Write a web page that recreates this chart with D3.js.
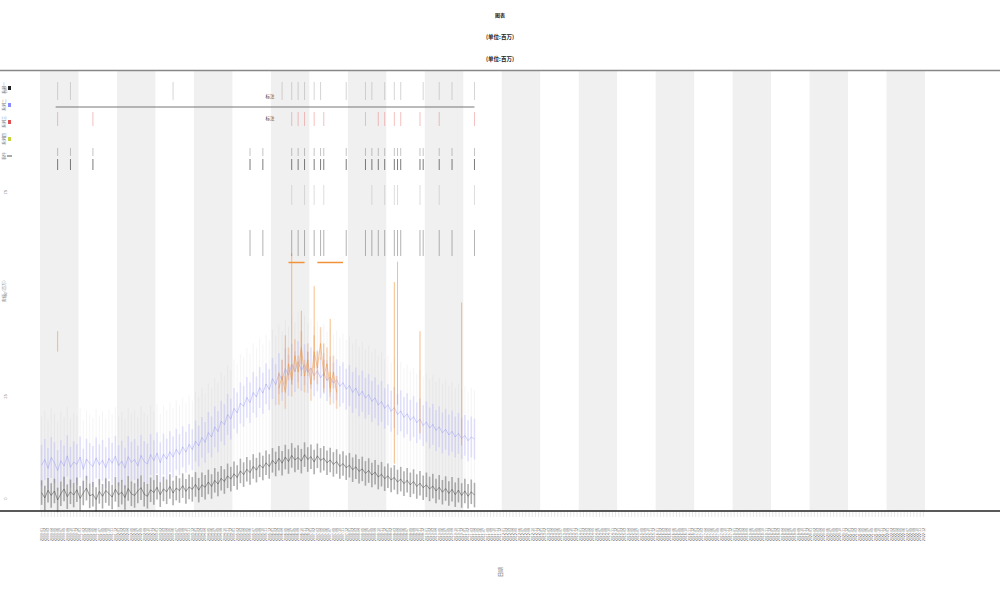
<!DOCTYPE html>
<html><head><meta charset="utf-8">
<script src="https://cdn.jsdelivr.net/npm/d3@7"></script>
<style>body{margin:0;background:#fff}svg{display:block}text{font-family:"Noto Sans CJK SC","DejaVu Sans",sans-serif}</style>
</head><body><div id="chart"></div>
<script>
// ---- data ----
const years = d3.range(2000, 2023);
const months = ["01","02","03","04","05","06","07","08","09","10","11","12"];
const categories = years.flatMap(y => months.map(m => y + "-" + m));
const yTicks = [0, 25, 50, 75, 100];
const grayValues = [
1.5,0.2,2.1,0.8,1.9,-0.3,1.2,2.4,0.5,1.7,
0.9,2.2,0.1,1.4,2.6,0.7,1.1,-0.2,1.8,0.6,
2.0,1.3,0.4,2.3,1.0,1.6,0.3,2.5,1.2,0.8,
1.9,2.7,1.1,0.6,2.2,1.5,2.8,1.0,2.4,1.7,
3.0,1.4,2.6,2.0,3.2,1.8,2.9,2.3,3.5,2.1,
3.4,2.8,4.1,3.0,4.5,3.6,5.0,4.2,5.6,4.8,
6.1,5.2,6.8,5.9,7.2,6.4,7.9,7.0,8.3,7.5,
8.8,7.9,9.4,8.5,9.9,8.7,10.2,9.1,10.6,9.5,
10.1,9.2,10.8,9.6,10.3,9.0,10.5,9.4,9.9,8.8,
9.5,8.4,9.1,7.9,8.6,7.6,8.2,7.1,7.8,6.7,
7.3,6.2,6.9,5.8,6.5,5.3,6.0,4.9,5.6,4.6,
5.2,4.1,4.8,3.7,4.5,3.4,4.2,3.0,3.8,2.7,
3.4,2.4,3.1,1.9,2.8,1.6,2.5,1.3,2.3,1.0,
2.1,0.8,1.9,0.6,1.7,0.9];
const blueValues = [
8.2,9.6,7.4,10.1,8.8,6.9,9.3,8.0,10.5,7.7,
9.0,8.4,10.2,7.2,9.7,8.6,7.9,10.0,8.3,9.4,
7.6,9.9,8.7,10.4,8.1,9.2,7.5,10.3,8.9,9.6,
8.0,10.6,9.1,8.5,10.8,9.3,11.2,8.8,10.9,9.7,
11.5,10.2,12.1,10.8,12.7,11.4,13.3,12.0,14.1,12.9,
15.0,13.8,16.2,15.1,17.6,16.4,19.0,18.1,20.6,19.5,
22.1,21.0,23.4,22.6,24.8,23.5,26.0,24.9,27.2,25.8,
28.1,26.7,29.4,27.9,30.6,29.0,31.8,30.2,32.9,31.1,
33.5,31.4,32.8,30.9,32.0,30.1,31.3,29.6,30.7,28.9,
29.8,28.3,29.1,27.5,28.4,26.8,27.7,26.0,27.1,25.2,
26.3,24.6,25.5,23.8,24.7,22.9,23.8,22.1,23.0,21.4,
22.3,20.6,21.5,19.9,20.8,19.2,20.1,18.6,19.5,17.9,
18.8,17.3,18.2,16.7,17.6,16.1,17.0,15.6,16.5,15.1,
16.0,14.7,15.5,14.2,15.1,14.6];
// orange overlay series (starts at category index 74)
const orangeStart = 74;
const orangeValues = [27, 30, 26, 33, 29, 35, 31, 37, 30, 34, 28, 36, 32, 38, 30, 33, 27, 31, 26];
// orange spikes: index, low, high
const orangeIdx  = [5, 76, 78, 81, 83, 85, 88, 90, 110, 111, 118, 131];
const orangeLow  = [36, 28, 28, 30, 31, 29, 27, 26, 8.6, 23, 16, 13];
const orangeHigh = [41, 40, 60, 46, 36, 52, 38, 44, 53, 58, 41, 48];
// orange horizontal segments (start index, end index, value)
const orangeSegStart = [77, 86];
const orangeSegEnd = [82, 94];
const orangeSegValue = [57.8, 57.8];
// event markers (category index)
const darkEvents = [5, 9, 16, 65, 69, 78, 80, 82, 85, 87, 88, 95, 101, 103, 105, 107, 110, 111, 112, 118, 119, 124, 128, 135];
const redEvents = [5, 16, 78, 80, 82, 85, 88, 101, 105, 107, 110, 112, 118, 124, 135];
const topEvents = [5, 9, 41, 75, 78, 80, 82, 85, 87, 95, 101, 103, 107, 110, 112, 119, 124, 128, 135];
const midEvents = [78, 82, 85, 88, 103, 107, 110, 111, 118, 124, 135];
const legendLabels = ["系列一", "系列二", "系列三", "系列四", "事件"];
const legendColors = ["#222", "#8a8aff", "#e05050", "#c8d23c", "#555"];
const titleLines = ["图表", "(单位:百万)", "(单位:百万)"];

// ---- drawing ----
const W = 1000, H = 600;
const svg = d3.select("#chart").append("svg").attr("width", W).attr("height", H);
const x = d3.scaleBand().domain(categories).range([40, 925]).padding(0);
const bw = x.bandwidth();
const cx = i => x(categories[i]) + bw / 2;
const y = d3.scaleLinear().domain([-3, 100]).range([511, 90]);

// alternating year bands
svg.append("g").selectAll("rect").data(years.filter((d, i) => i % 2 === 0)).join("rect")
  .attr("x", d => x(d + "-01")).attr("y", 70).attr("width", bw * 12).attr("height", 441)
  .attr("fill", "#f0f0f0");

// top separator
svg.append("line").attr("x1", 0).attr("x2", W).attr("y1", 70.5).attr("y2", 70.5)
  .attr("stroke", "#888").attr("stroke-width", 1.5);

// title
svg.append("g").selectAll("text").data(titleLines).join("text")
  .attr("x", 500).attr("y", (d, i) => 17 + i * 22).attr("text-anchor", "middle")
  .attr("font-size", (d, i) => i === 0 ? 5 : 5.5).attr("font-weight", "bold").attr("fill", "#222").text(d => d);

const idx = d3.range(grayValues.length);

// faint streaks connecting series
svg.append("g").selectAll("line").data(idx).join("line")
  .attr("x1", i => cx(i)).attr("x2", i => cx(i))
  .attr("y1", i => y(grayValues[i] - 3)).attr("y2", i => y(blueValues[i] + 12))
  .attr("stroke", "#999").attr("stroke-opacity", 0.1).attr("stroke-width", 1);

// blue streaks + line
svg.append("g").selectAll("line").data(idx).join("line")
  .attr("x1", i => cx(i)).attr("x2", i => cx(i))
  .attr("y1", i => y(blueValues[i] - 5)).attr("y2", i => y(blueValues[i] + 5))
  .attr("stroke", "#a5a5ff").attr("stroke-opacity", 0.3).attr("stroke-width", 1.6);
svg.append("path").datum(idx)
  .attr("d", d3.line().x(i => cx(i)).y(i => y(blueValues[i])))
  .attr("fill", "none").attr("stroke", "#8080f0").attr("stroke-opacity", 0.35).attr("stroke-width", 1);

// orange overlay
svg.append("g").selectAll("line").data(orangeValues).join("line")
  .attr("x1", (d, k) => cx(orangeStart + k)).attr("x2", (d, k) => cx(orangeStart + k))
  .attr("y1", d => y(d - 4)).attr("y2", d => y(d + 4))
  .attr("stroke", "#f0a060").attr("stroke-opacity", 0.4).attr("stroke-width", 1.6);
svg.append("path").datum(orangeValues)
  .attr("d", d3.line().x((d, k) => cx(orangeStart + k)).y(d => y(d)))
  .attr("fill", "none").attr("stroke", "#f0923a").attr("stroke-opacity", 0.5).attr("stroke-width", 1);

// orange spikes
svg.append("g").selectAll("line").data(orangeIdx).join("line")
  .attr("x1", d => cx(d)).attr("x2", d => cx(d))
  .attr("y1", (d, k) => y(orangeLow[k])).attr("y2", (d, k) => y(orangeHigh[k]))
  .attr("stroke", "#f0923a").attr("stroke-opacity", 0.6).attr("stroke-width", 1);
svg.append("g").selectAll("line").data(orangeSegStart).join("line")
  .attr("x1", d => cx(d)).attr("x2", (d, k) => cx(orangeSegEnd[k]))
  .attr("y1", (d, k) => y(orangeSegValue[k])).attr("y2", (d, k) => y(orangeSegValue[k]))
  .attr("stroke", "#f0923a").attr("stroke-width", 1.5);

// gray streaks + line
svg.append("g").selectAll("line").data(idx).join("line")
  .attr("x1", i => cx(i)).attr("x2", i => cx(i))
  .attr("y1", i => y(grayValues[i] - 3)).attr("y2", i => y(grayValues[i] + 3))
  .attr("stroke", "#666").attr("stroke-opacity", 0.5).attr("stroke-width", 1.6);
svg.append("path").datum(idx)
  .attr("d", d3.line().x(i => cx(i)).y(i => y(grayValues[i])))
  .attr("fill", "none").attr("stroke", "#444").attr("stroke-opacity", 0.5).attr("stroke-width", 1);

// event marker rows
const ev = svg.append("g");
ev.selectAll(".t1").data(topEvents).join("line").attr("class", "t1")
  .attr("x1", d => cx(d)).attr("x2", d => cx(d)).attr("y1", 82).attr("y2", 100)
  .attr("stroke", "#aaa").attr("stroke-width", 0.5);
ev.append("line").attr("x1", cx(5) - 2).attr("x2", cx(135)).attr("y1", 107).attr("y2", 107)
  .attr("stroke", "#777").attr("stroke-width", 1);
ev.selectAll(".r").data(redEvents).join("line").attr("class", "r")
  .attr("x1", d => cx(d)).attr("x2", d => cx(d)).attr("y1", 112).attr("y2", 126)
  .attr("stroke", "#e88080").attr("stroke-width", 0.5);
ev.selectAll(".d1").data(darkEvents).join("line").attr("class", "d1")
  .attr("x1", d => cx(d)).attr("x2", d => cx(d)).attr("y1", 148).attr("y2", 156)
  .attr("stroke", "#888").attr("stroke-width", 0.5);
ev.selectAll(".d2").data(darkEvents).join("line").attr("class", "d2")
  .attr("x1", d => cx(d)).attr("x2", d => cx(d)).attr("y1", 159).attr("y2", 170)
  .attr("stroke", "#444").attr("stroke-width", 0.7);
ev.selectAll(".m").data(midEvents).join("line").attr("class", "m")
  .attr("x1", d => cx(d)).attr("x2", d => cx(d)).attr("y1", 185).attr("y2", 205)
  .attr("stroke", "#bbb").attr("stroke-width", 0.5);
ev.selectAll(".d3").data(darkEvents.filter(d => d > 60)).join("line").attr("class", "d3")
  .attr("x1", d => cx(d)).attr("x2", d => cx(d)).attr("y1", 230).attr("y2", 256)
  .attr("stroke", "#666").attr("stroke-width", 0.5);
ev.selectAll(".lab").data(["标注", "标注"]).join("text").attr("class", "lab")
  .attr("x", 270).attr("y", (d, i) => 98 + i * 22).attr("text-anchor", "middle")
  .attr("font-size", 4.5).attr("fill", "#333").text(d => d);

// x axis
const xAxis = d3.axisBottom(x).tickSize(6).tickSizeOuter(0).tickFormat("");
const gx = svg.append("g").attr("transform", "translate(0,511)").call(xAxis);
gx.select(".domain").remove();
gx.selectAll(".tick line").attr("stroke", "#ccc").attr("stroke-width", 0.5);
svg.append("g").selectAll("text").data(categories).join("text")
  .attr("transform", d => `translate(${x(d) + bw / 2 + 1.3},528) rotate(-90)`)
  .attr("text-anchor", "end").attr("font-size", 3.6).attr("fill", "#555").text(d => d);
svg.append("line").attr("x1", 0).attr("x2", W).attr("y1", 511).attr("y2", 511)
  .attr("stroke", "#222").attr("stroke-width", 1.5);

// y axis labels
svg.append("g").selectAll("text").data(yTicks).join("text")
  .attr("transform", d => `translate(7,${y(d)}) rotate(-90)`).attr("text-anchor", "middle")
  .attr("font-size", 4).attr("fill", "#888").text(d => d);
svg.append("text").attr("transform", "translate(6,290) rotate(-90)").attr("text-anchor", "middle")
  .attr("font-size", 4).attr("fill", "#888").text("数值（百万）");

// x axis title
svg.append("text").attr("transform", "translate(502,572) rotate(-90)").attr("text-anchor", "middle")
  .attr("font-size", 5).attr("fill", "#666").text("日期");

// legend
const lg = svg.append("g");
legendLabels.forEach((l, i) => {
  const ly = 88 + i * 17;
  if (i < 4) {
    lg.append("rect").attr("x", 8).attr("y", ly - 2).attr("width", 3).attr("height", 4).attr("fill", legendColors[i]);
  } else {
    lg.append("line").attr("x1", 7).attr("x2", 12).attr("y1", ly).attr("y2", ly).attr("stroke", legendColors[i]);
  }
  lg.append("text").attr("transform", `translate(6,${ly}) rotate(-90)`).attr("text-anchor", "middle")
    .attr("font-size", 4).attr("fill", "#777").text(l);
});
</script></body></html>
